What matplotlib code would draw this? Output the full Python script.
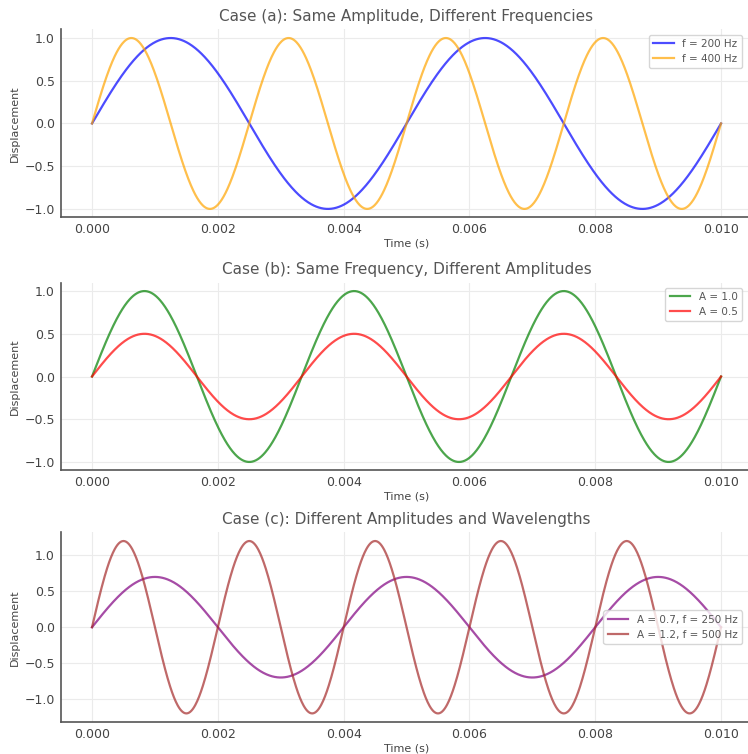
import matplotlib.pyplot as plt
import numpy as np

# sine wave parameters
t_end = 0.01
freqs_a = [200, 400]
amps_a = [1.0, 1.0]
labels_a = ['f = 200 Hz', 'f = 400 Hz']
colors_a = ['blue', 'orange']

freqs_b = [300, 300]
amps_b = [1.0, 0.5]
labels_b = ['A = 1.0', 'A = 0.5']
colors_b = ['green', 'red']

freqs_c = [250, 500]
amps_c = [0.7, 1.2]
labels_c = ['A = 0.7, f = 250 Hz', 'A = 1.2, f = 500 Hz']
colors_c = ['purple', 'brown']

titles = ['Case (a): Same Amplitude, Different Frequencies',
          'Case (b): Same Frequency, Different Amplitudes',
          'Case (c): Different Amplitudes and Wavelengths']

text_col = '#444444'
plt.rcParams['font.family'] = 'DejaVu Sans'
plt.rcParams['font.size'] = 9
plt.rcParams['text.color'] = text_col
plt.rcParams['axes.labelcolor'] = text_col
plt.rcParams['xtick.color'] = text_col
plt.rcParams['ytick.color'] = text_col

t = np.linspace(0, t_end, 1000)

fig = plt.figure(figsize=(7.48, 7.54), dpi=100)
boxes = [[0.081, 0.7116, 0.925, 0.2493],
         [0.081, 0.3760, 0.925, 0.2493],
         [0.081, 0.0424, 0.925, 0.2515]]
cases = [(freqs_a, amps_a, labels_a, colors_a, 'upper right'),
         (freqs_b, amps_b, labels_b, colors_b, 'upper right'),
         (freqs_c, amps_c, labels_c, colors_c, 'center right')]

for box, (fr, am, lb, co, loc), title in zip(boxes, cases, titles):
    ax = fig.add_axes(box)
    for f, a, l, c in zip(fr, am, lb, co):
        ax.plot(t, a * np.sin(2 * np.pi * f * t), color=c, alpha=0.7, lw=1.6, label=l)
    ax.set_title(title, fontsize=11, color='#555555', pad=6)
    ax.set_xlabel('Time (s)', fontsize=8, labelpad=2)
    ax.set_ylabel('Displacement', fontsize=8, labelpad=3)
    ax.set_xticks([0, 0.002, 0.004, 0.006, 0.008, 0.01])
    ax.grid(True, color='#ebebeb', lw=0.8)
    ax.set_axisbelow(True)
    for s in ['top', 'right']:
        ax.spines[s].set_visible(False)
    for s in ['left', 'bottom']:
        ax.spines[s].set_color('#555555')
        ax.spines[s].set_linewidth(1.2)
    ax.tick_params(length=0, pad=4, labelsize=9)
    if loc == 'center right':
        leg = ax.legend(loc=loc, fontsize=7.5, bbox_to_anchor=(0.992, 0.5))
    else:
        leg = ax.legend(loc=loc, fontsize=7.5, bbox_to_anchor=(0.992, 1.0))
    for txt in leg.get_texts():
        txt.set_color('#555555')

fig.savefig('out.png', dpi=100)
